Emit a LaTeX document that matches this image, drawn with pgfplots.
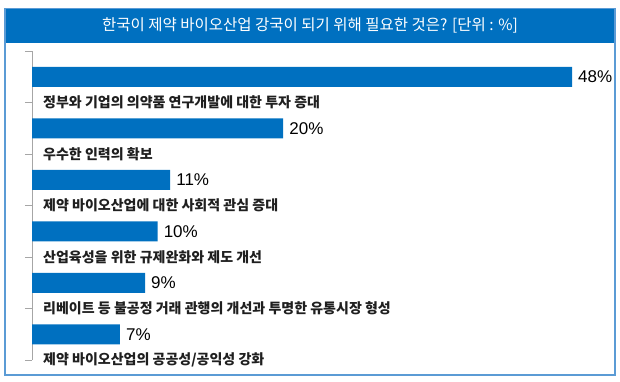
\documentclass[border=0pt]{standalone}
\usepackage{pgfplots}
\pgfplotsset{compat=1.18}
\usepackage{pgfplotstable}
\usepackage{fontspec}
\setmainfont{Liberation Sans}
\newfontfamily\kr{Noto Sans CJK KR}
\definecolor{barblue}{HTML}{0070C0}
\definecolor{framec}{HTML}{5B9BD5}
\pgfplotstableread{
y val
0.5 48
1.5 20
2.5 11
3.5 10
4.5 9
5.5 7
}\datatable
\begin{document}
\begin{tikzpicture}
\useasboundingbox (0pt,0pt) rectangle (620pt,381pt);
\fill[barblue] (4.7pt,338.3pt) rectangle (615pt,372.3pt);
\draw[framec, line width=1.6pt] (4.7pt,6pt) rectangle (615pt,372.3pt);
\node[text=white, font=\kr\fontsize{15.5}{18}\selectfont] at (310pt,355.5pt) {한국이 제약 바이오산업 강국이 되기 위해 필요한 것은? [단위 : \%]};
\begin{axis}[at={(32pt,21pt)}, anchor=south west, scale only axis, width=540pt, height=309pt,
 xmin=0, xmax=43, ymin=0, ymax=6, y dir=reverse,
 axis x line=none, axis y line*=left,
 y axis line style={draw=gray!70, line width=0.8pt, -},
 ytick={0,...,6},
 yticklabels={{},{정부와 기업의 의약품 연구개발에 대한 투자 증대},{우수한 인력의 확보},{제약 바이오산업에 대한 사회적 관심 증대},{산업육성을 위한 규제완화와 제도 개선},{리베이트 등 불공정 거래 관행의 개선과 투명한 유통시장 형성},{제약 바이오산업의 공공성/공익성 강화}},
 tick align=outside, major tick length=7pt,
 ytick style={draw=gray!70, line width=0.8pt},
 yticklabel style={anchor=west, inner sep=0pt, xshift=18pt, font=\kr\bfseries\fontsize{14}{16}\selectfont, text=black!88},
 xbar, bar width=20pt, restrict x to domain*=0:43,
 point meta=explicit symbolic,
 nodes near coords={\pgfplotspointmeta\%},
 every node near coord/.append style={font=\fontsize{17}{20}\selectfont, text=black, inner sep=0pt, xshift=6pt, anchor=west},
]
\addplot[fill=barblue, draw=none] table[x=val, y=y, meta=val]{\datatable};
\end{axis}
\end{tikzpicture}
\end{document}
